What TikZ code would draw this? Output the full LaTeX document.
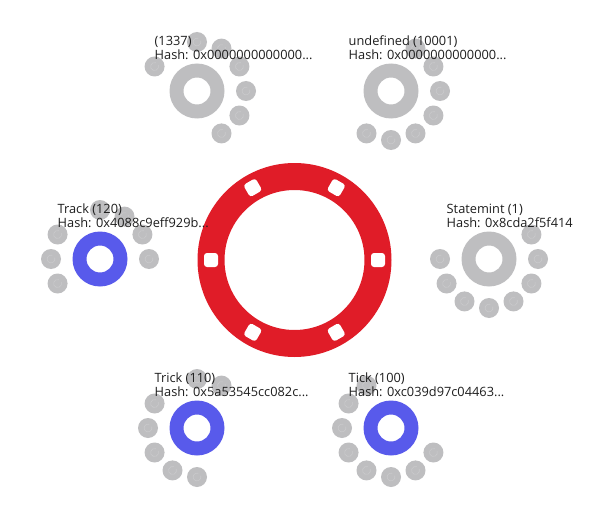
\documentclass[tikz,border=0pt]{standalone}
\usepackage{fontspec}
\setmainfont{Open Sans}
\usetikzlibrary{calc}
\definecolor{ringred}{RGB}{224,28,40}
\definecolor{blueish}{RGB}{88,90,235}
\definecolor{greyc}{RGB}{190,190,192}
\definecolor{iconc}{RGB}{202,202,204}
\definecolor{txt}{RGB}{30,30,30}
\tikzset{
  orbit/.style={fill=greyc},
  glyph/.style={draw=iconc, line width=0.6pt},
  lbl/.style={inner sep=0pt, anchor=base west, font=\fontsize{12.8}{14}\selectfont, text=txt},
  slot/.style={fill=white, minimum size=14pt, inner sep=0pt, rounded corners=3pt}
}
\newcommand{\mycluster}[7]{%
  \coordinate (#1) at (#2,#3);
  \foreach \a in {#5}{
    \fill[orbit] ($(#1)+(\a:49pt)$) circle (10pt);
    \draw[glyph] ($(#1)+(\a:49pt)+(70:4pt)$) arc (70:380:4pt);
  }
  \fill[#4, even odd rule] (#1) circle (27.5pt) (#1) circle (13.5pt);
  \node[lbl] (#1-name) at ($(#1)+(-42.5,-45.5)$) {#6};
  \node[lbl] (#1-hash) at ($(#1)+(-42.5,-31.5)$) {#7};
}
\begin{document}
\begin{tikzpicture}[x=1pt,y=-1pt]
\useasboundingbox (0,0) rectangle (600,519);
\fill[white] (0,0) rectangle (600,519);
% central ring
\coordinate (ring) at (294.5,260);
\fill[ringred, even odd rule] (ring) circle (97pt) (ring) circle (70pt);
\foreach \a in {0,60,120,180,240,300}{
  \node[slot, rotate=\a] (s\a) at ($(ring)+(\a:83.5pt)$) {};
}
% clusters
\mycluster{c1}{197}{91}{greyc}{150,90,60,30,0,-30,-60}{(1337)}{Hash: 0x0000000000000...}
\mycluster{c2}{391}{91}{greyc}{60,30,0,-30,-60,-90,-120}{undefined (10001)}{Hash: 0x0000000000000...}
\mycluster{c3}{100}{259}{blueish}{90,60,30,0,150,180,-150}{Track (120)}{Hash: 0x4088c9eff929b...}
\mycluster{c4}{489}{259}{greyc}{30,0,-30,-60,-90,-120,-150,180}{Statemint (1)}{Hash: 0x8cda2f5f414}
\mycluster{c5}{197}{428}{blueish}{90,60,150,180,-150,-120,-90}{Trick (110)}{Hash: 0x5a53545cc082c...}
\mycluster{c6}{391}{428}{blueish}{120,150,180,-150,-120,-90,-60,-30}{Tick (100)}{Hash: 0xc039d97c04463...}
\end{tikzpicture}
\end{document}
